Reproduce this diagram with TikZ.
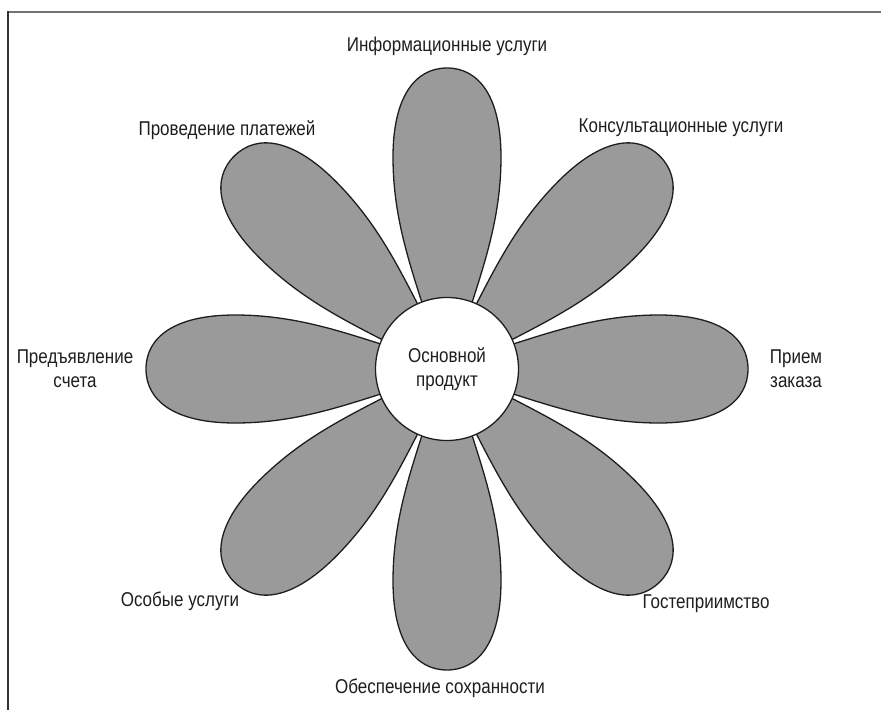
\documentclass[tikz,border=0pt]{standalone}
\usepackage{fontspec}
\newfontfamily\lab[FakeStretch=0.85]{Liberation Sans}
\definecolor{petalgray}{RGB}{154,154,154}
\definecolor{ink}{RGB}{30,30,30}
\begin{document}
\begin{tikzpicture}[x=1pt,y=-1pt,
  petal/.style={fill=petalgray,draw=ink,line width=1.3pt},
  lbl/.style={font=\lab\fontsize{20}{24}\selectfont,text=ink,align=center,inner sep=0pt}]
\useasboundingbox (0,0) rectangle (881,710);
\fill[white] (0,0) rectangle (881,710);
\draw[black!55, line width=2.5pt] (7,12) -- (881,12);
\draw[black!80, line width=2pt] (8,11) -- (8,710);
\foreach \a in {0,45,...,315} {
 \begin{scope}[shift={(447,369)},rotate=\a]
  \draw[petal] (60,-23) .. controls (110,-39) and (155,-54) .. (212,-54) .. controls (272,-54) and (301,-32) .. (301,0) .. controls (301,32) and (272,54) .. (212,54) .. controls (155,54) and (110,39) .. (60,23) -- cycle;
 \end{scope}
}
\node[circle,draw=ink,fill=white,line width=1.3pt,minimum size=143pt,inner sep=0pt,lbl] (core) at (447,369) {Основной\\продукт};
\node[lbl] (info) at (447,46) {Информационные услуги};
\node[lbl] (pay) at (227,130) {Проведение платежей};
\node[lbl] (cons) at (681,128) {Консультационные услуги};
\node[lbl] (bill) at (75,369) {Предъявление\\счета};
\node[lbl] (order) at (796,369) {Прием\\заказа};
\node[lbl] (spec) at (180,601) {Особые услуги};
\node[lbl] (host) at (706,604) {Гостеприимство};
\node[lbl] (safe) at (440,688) {Обеспечение сохранности};
\end{tikzpicture}
\end{document}
